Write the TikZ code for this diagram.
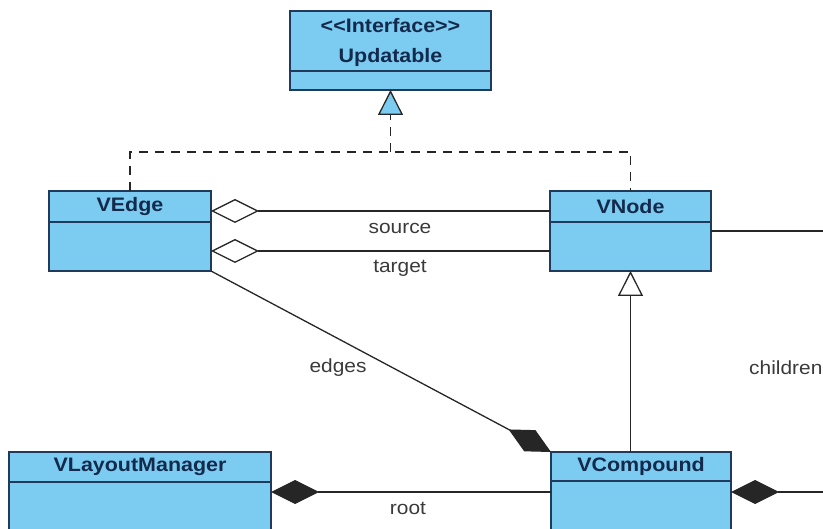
\documentclass[tikz,border=0pt]{standalone}
\usepackage{fontspec}
\usepackage{tikz}
\usetikzlibrary{calc,arrows.meta}
\newfontfamily\titlefont[FakeStretch=1.1,Ligatures=TeXOff]{Liberation Sans}
\newfontfamily\labelfont[FakeStretch=1.1]{Liberation Sans}
\definecolor{boxblue}{HTML}{7CCBF1}
\definecolor{boxline}{HTML}{1F3A5A}
\definecolor{titleblue}{HTML}{142A4C}
\definecolor{labelgray}{HTML}{3A3A3A}

\begin{document}
\begin{tikzpicture}[x=1pt,y=-1pt]
\tikzset{umlclass/.style 2 args={ %
		draw=boxline,
		line width=1.6pt,
		fill=boxblue,
		inner sep=0pt,
		outer sep=0pt,
		minimum width=#1,
		minimum height=#2 %
	},
	classname/.style={font=\titlefont\bfseries\fontsize{19.5}{30}\selectfont, text=titleblue, inner sep=0pt, align=center},
	lbl/.style={font=\labelfont\fontsize{19}{22}\selectfont, text=labelgray, inner sep=0pt},
	conn/.style={draw=black!85, line width=1.3pt},
	dashed line/.style={dash pattern=on 9pt off 7pt},
	hollow diamond/.style={Diamond[fill=white,length=48pt,width=24pt]},
	full diamond/.style={Diamond[length=48pt,width=24pt]}
}
\useasboundingbox (0,0) rectangle (823,529);
\clip (0,0) rectangle (823,529);

\node[umlclass={201pt}{79pt}] (upd) at (390.5,50.5) {};
\node[umlclass={162pt}{80pt}] (vedge) at (130,231) {};
\node[umlclass={161pt}{80pt}] (vnode) at (630.5,231) {};
\node[umlclass={262pt}{80pt}] (vlm) at (140,492) {};
\node[umlclass={180pt}{80pt}] (vcomp) at (641,492) {};

% header lines
\foreach \b/\h in {upd/60,vedge/31,vnode/31,vlm/30,vcomp/29}
	\draw[boxline, line width=1.6pt] ($(\b.north west)+(0,\h)$) -- ($(\b.north east)+(0,\h)$);

\node[classname] (updname) at ($(upd.north)+(0,31)$) {<<Interface>>\\Updatable};
\node[classname] (vedgename) at ($(vedge.north)+(0,15.5)$) {VEdge};
\node[classname] (vnodename) at ($(vnode.north)+(0,15.5)$) {VNode};
\node[classname] (vlmname) at ($(vlm.north)+(0,15)$) {VLayoutManager};
\node[classname] (vcompname) at ($(vcomp.north)+(0,14.5)$) {VCompound};

% realization
\coordinate (join) at ($(upd.south)+(0,62)$);
\draw[conn, dashed line] (vedge.north) |- (join) -| (vnode.north);
\draw[conn, dashed line, -{Triangle[fill=boxblue,length=25pt,width=25pt]}] (join) -- (upd.south);

% associations
\draw[conn, {Diamond[fill=white,length=48pt,width=24pt]}-] ($(vedge.east)+(0,-20)$) -- ($(vnode.west)+(0,-20)$);
\draw[conn, {Diamond[fill=white,length=48pt,width=24pt]}-] ($(vedge.east)+(0,20)$) -- ($(vnode.west)+(0,20)$);
\draw[conn, -{Diamond[length=48pt,width=24pt]}] (vedge.south east) -- (vcomp.north west);
\draw[conn, {Triangle[fill=white,length=25pt,width=25pt]}-] (vnode.south) -- (vnode.south |- vcomp.north);
\draw[conn, {Diamond[length=48pt,width=24pt]}-] (vlm.east) -- (vcomp.west);

\coordinate (vnodeout) at (830,231);
\coordinate (vcompout) at (830,492);
\draw[conn] (vnode.east) -- (vnodeout);
\draw[conn, {Diamond[length=48pt,width=24pt]}-] (vcomp.east) -- (vcompout);

\node[lbl] (lsource) at (400,228) {source};
\node[lbl] (ltarget) at (400,268) {target};
\node[lbl] (ledges) at (338,368) {edges};
\node[lbl, anchor=west] (lchildren) at (749,368) {children};
\node[lbl] (lroot) at (408,508) {root};

\end{tikzpicture}
\end{document}
